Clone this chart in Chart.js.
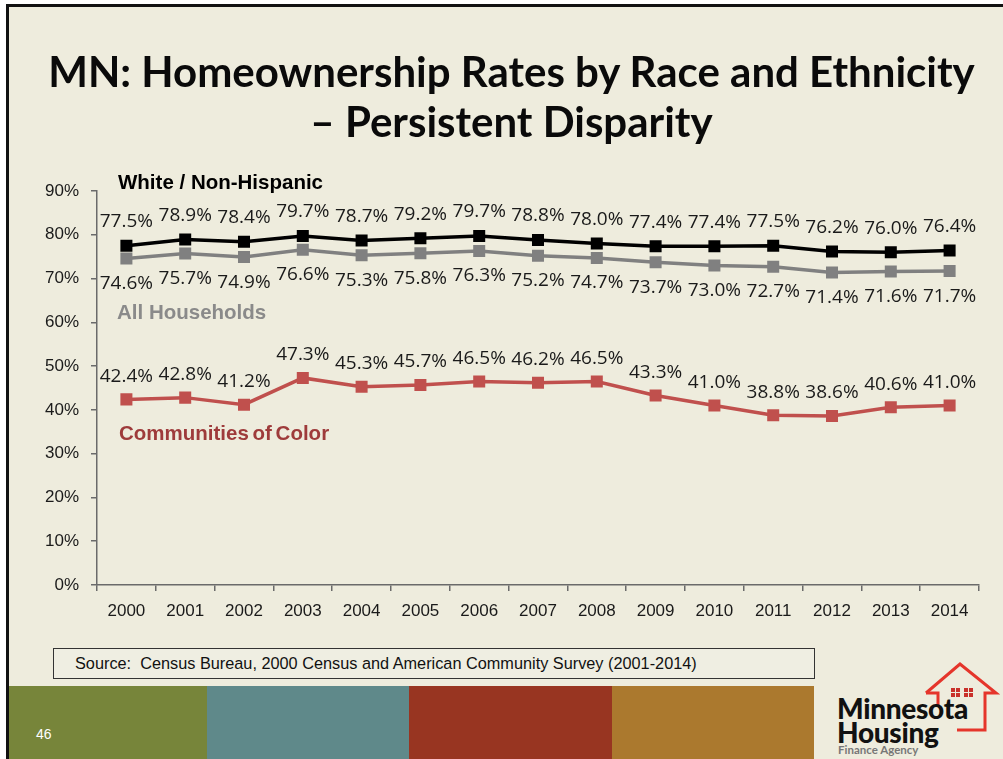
<!DOCTYPE html>
<html>
<head>
<meta charset="utf-8">
<script src="https://cdn.jsdelivr.net/npm/chart.js"></script>
<style>
    html, body { margin: 0; padding: 0; background: #ffffff; }
    #slide {
        position: absolute; left: 6px; top: 4px; width: 997px; height: 755px;
        background: #eeecdd; border-top: 3px solid #111; border-left: 3px solid #111;
        box-sizing: border-box; overflow: hidden;
    }
    .abs { position: absolute; white-space: pre; }
    .title { left: 20px; width: 983px; text-align: center; font: bold 42px Lato, sans-serif; line-height: 1.2; color: #0a0a0a; }
    .series { font-family: "Liberation Sans", Arial, sans-serif; font-weight: bold; line-height: 1; }
    #chartBox { position: absolute; left: 0; top: 0; width: 1003px; height: 640px; }
    .bar { position: absolute; top: 686px; height: 73px; }
</style>
</head>
<body>
<div id="slide"></div>
<div id="chartBox"><canvas id="lineChart"></canvas></div>

<div class="abs title" style="top: 46px;">MN: Homeownership Rates by Race and Ethnicity</div>
<div class="abs title" style="top: 96px;">– Persistent Disparity</div>

<div class="abs series" style="left: 118px; top: 172px; font-size: 20.5px; color: #000;">White / Non-Hispanic</div>
<div class="abs series" style="left: 117px; top: 302px; font-size: 20.5px; color: #8a8a8a;">All Households</div>
<div class="abs series" style="left: 119px; top: 423px; font-size: 20.5px; word-spacing: -2px; color: #9e3b3b;">Communities of Color</div>

<div class="abs" style="left: 53px; top: 648px; width: 762px; height: 31px; box-sizing: border-box; border: 1px solid #333; background: #efeee2;
     font: 16.3px 'Liberation Sans', Arial, sans-serif; line-height: 29px; padding-left: 21px; color: #111;">Source:  Census Bureau, 2000 Census and American Community Survey (2001-2014)</div>

<div class="bar" style="left: 9px; width: 198px; background: #77853a;"></div>
<div class="bar" style="left: 207px; width: 202px; background: #5f898a;"></div>
<div class="bar" style="left: 409px; width: 203px; background: #983521;"></div>
<div class="bar" style="left: 612px; width: 202px; background: #ab792e;"></div>
<div class="abs" style="left: 36px; top: 726px; font: 14px 'Liberation Sans', Arial, sans-serif; color: #fff;">46</div>

<!-- logo -->
<svg class="abs" style="left: 820px; top: 655px;" width="183" height="104">
    <polyline points="106,38 140,9 176,38 165,38 165,75 137,75" fill="none" stroke="#e5352b" stroke-width="3"/>
    <polyline points="106,38 118,38 118,52" fill="none" stroke="#e5352b" stroke-width="3"/>
    <rect x="131" y="33" width="4" height="4" fill="#c9302a"/><rect x="136" y="33" width="4" height="4" fill="#c9302a"/>
    <rect x="131" y="38" width="4" height="4" fill="#c9302a"/><rect x="136" y="38" width="4" height="4" fill="#c9302a"/>
    <rect x="144" y="33" width="4" height="4" fill="#c9302a"/><rect x="149" y="33" width="4" height="4" fill="#c9302a"/>
    <rect x="144" y="38" width="4" height="4" fill="#c9302a"/><rect x="149" y="38" width="4" height="4" fill="#c9302a"/>
</svg>
<div class="abs" style="left: 837px; top: 694px; font: 900 28px Lato, sans-serif; line-height: 1; letter-spacing: -0.3px; color: #111;">Minnesota</div>
<div class="abs" style="left: 837px; top: 718px; font: 900 28px Lato, sans-serif; line-height: 1; letter-spacing: -0.3px; color: #111;">Housing</div>
<div class="abs" style="left: 838px; top: 744px; font: bold 11.5px Lato, sans-serif; line-height: 1; color: #777;">Finance Agency</div>

<script>
    // Chart values
    const years = ['2000', '2001', '2002', '2003', '2004', '2005', '2006', '2007',
                   '2008', '2009', '2010', '2011', '2012', '2013', '2014'];
    const whiteNonHispanic = [77.5, 78.9, 78.4, 79.7, 78.7, 79.2, 79.7, 78.8, 78.0, 77.4, 77.4, 77.5, 76.2, 76.0, 76.4];
    const allHouseholds = [74.6, 75.7, 74.9, 76.6, 75.3, 75.8, 76.3, 75.2, 74.7, 73.7, 73.0, 72.7, 71.4, 71.6, 71.7];
    const communitiesOfColor = [42.4, 42.8, 41.2, 47.3, 45.3, 45.7, 46.5, 46.2, 46.5, 43.3, 41.0, 38.8, 38.6, 40.6, 41.0];
    const yTicks = [0, 10, 20, 30, 40, 50, 60, 70, 80, 90];

    // Draw the value above / below every point
    const valueLabels = {
        id: 'valueLabels',
        afterDatasetsDraw(chart) {
            const ctx = chart.ctx;
            ctx.save();
            ctx.font = '19px "Open Sans", sans-serif';
            ctx.fillStyle = '#1a1a1a';
            ctx.textAlign = 'center';
            ctx.textBaseline = 'middle';
            chart.data.datasets.forEach((ds, i) => {
                const meta = chart.getDatasetMeta(i);
                meta.data.forEach((pt, j) => {
                    ctx.fillText(ds.data[j].toFixed(1) + '%', pt.x, pt.y + ds.labelShift);
                });
            });
            ctx.restore();
        }
    };

    const axisColor = '#6a6a6a';
    const tickFont = { family: '"Liberation Sans", Arial, sans-serif', size: 17 };

    const lineData = {
        labels: years,
        datasets: [{
            label: 'White / Non-Hispanic',
            data: whiteNonHispanic,
            borderColor: '#000000',
            backgroundColor: '#000000',
            labelShift: -24
        },
        {
            label: 'All Households',
            data: allHouseholds,
            borderColor: '#808080',
            backgroundColor: '#808080',
            labelShift: 25
        },
        {
            label: 'Communities of Color',
            data: communitiesOfColor,
            borderColor: '#c0504d',
            backgroundColor: '#c0504d',
            labelShift: -23
        }]
    };

    const lineConfig = {
        type: 'line',
        data: lineData,
        options: {
            responsive: true,
            maintainAspectRatio: false,
            animation: false,
            layout: { padding: { left: 0, top: 191, right: 24, bottom: 15 } },
            elements: {
                line: { borderWidth: 3.5, tension: 0 },
                point: { pointStyle: 'rect', radius: 8.5, hoverRadius: 8.5, borderWidth: 0 }
            },
            plugins: {
                legend: { display: false },
                tooltip: { enabled: false }
            },
            scales: {
                x: {
                    offset: true,
                    grid: { offset: true, drawOnChartArea: false, tickLength: 6, color: axisColor, lineWidth: 1.5 },
                    border: { color: axisColor, width: 1.5 },
                    ticks: { color: '#1a1a1a', font: tickFont, padding: 10, maxRotation: 0 },
                    afterFit(scale) { scale.height = 40; }
                },
                y: {
                    min: 0,
                    max: 90,
                    afterBuildTicks(scale) { scale.ticks = yTicks.map(v => ({ value: v })); },
                    grid: { drawOnChartArea: false, tickLength: 6, color: axisColor, lineWidth: 1.5 },
                    border: { color: axisColor, width: 1.5 },
                    ticks: { color: '#1a1a1a', font: tickFont, padding: 12, callback: v => v + '%' },
                    afterFit(scale) { scale.width = 97; }
                }
            }
        },
        plugins: [valueLabels]
    };

    const lineCtx = document.getElementById('lineChart').getContext('2d');
    new Chart(lineCtx, lineConfig);
</script>
</body>
</html>
